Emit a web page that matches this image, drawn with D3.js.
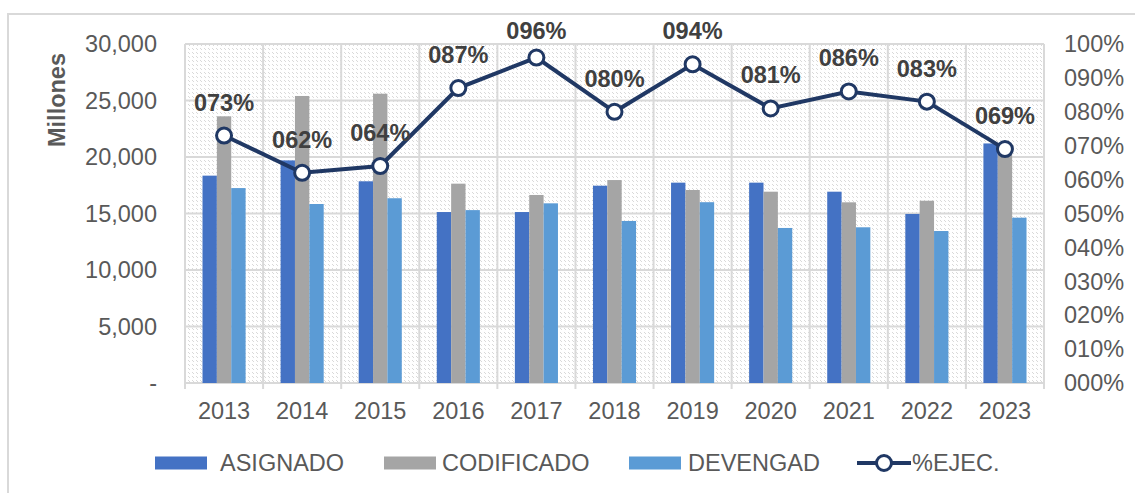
<!DOCTYPE html>
<html>
<head>
<meta charset="utf-8">
<script src="https://cdn.jsdelivr.net/npm/d3@7"></script>
<style>
  body { margin: 0; background: #fff; }
  svg { display: block; font-family: "Liberation Sans", Arial, sans-serif; }
</style>
</head>
<body>
<svg width="1135" height="493"></svg>
<script>
// data
var years = ["2013","2014","2015","2016","2017","2018","2019","2020","2021","2022","2023"];
var asignado   = [18350, 19700, 17850, 15130, 15130, 17460, 17730, 17730, 16930, 14960, 21200];
var codificado = [23600, 25400, 25600, 17640, 16640, 17960, 17080, 16930, 15990, 16130, 20700];
var devengado  = [17250, 15840, 16350, 15300, 15900, 14340, 16000, 13720, 13780, 13450, 14630];
var ejec = [0.73, 0.62, 0.64, 0.87, 0.96, 0.80, 0.94, 0.81, 0.86, 0.83, 0.69];
var leftTicks = [0, 5000, 10000, 15000, 20000, 25000, 30000];
var rightTicks = [0, .1, .2, .3, .4, .5, .6, .7, .8, .9, 1];

var keys = ["ASIGNADO", "CODIFICADO", "DEVENGAD"];
var colors = ["#4472C4", "#A5A5A5", "#5B9BD5"];
var lineColor = "#203864";
var textColor = "#595959";
var fs = 23.5;

var svg = d3.select("svg");
var plot = {left: 185, right: 1044, top: 44, bottom: 383};

// hatch background
var defs = svg.append("defs");
var pat = defs.append("pattern")
    .attr("id", "hatch")
    .attr("patternUnits", "userSpaceOnUse")
    .attr("width", 8).attr("height", 8);
pat.append("rect").attr("width", 8).attr("height", 8).attr("fill", "#fff");
for (var i = 0; i < 8; i++) {
  if (i % 4 > 1) continue;
  pat.append("rect").attr("x", i).attr("y", i).attr("width", 1).attr("height", 1).attr("fill", "#d9d9d9");
  pat.append("rect").attr("x", i).attr("y", (i + 4) % 8).attr("width", 1).attr("height", 1).attr("fill", "#d9d9d9");
}

// outer frame
svg.append("rect")
    .attr("x", 8).attr("y", 14)
    .attr("width", 1160).attr("height", 520)
    .attr("fill", "none")
    .attr("stroke", "#d9d9d9")
    .attr("stroke-width", 2);

var x0 = d3.scaleBand().domain(years).range([plot.left, plot.right]);
var x1 = d3.scaleBand().domain(keys).range([17.5, 60.6]);
var y = d3.scaleLinear().domain([0, 30000]).range([plot.bottom, plot.top]);
var y2 = d3.scaleLinear().domain([0, 1]).range([plot.bottom, plot.top]);

svg.append("rect")
    .attr("x", plot.left).attr("y", plot.top)
    .attr("width", plot.right - plot.left)
    .attr("height", plot.bottom - plot.top)
    .attr("fill", "url(#hatch)");

// horizontal grid
svg.append("g").selectAll("line")
  .data(leftTicks)
  .enter().append("line")
    .attr("x1", plot.left).attr("x2", plot.right)
    .attr("y1", d => y(d)).attr("y2", d => y(d))
    .attr("stroke", "#d9d9d9")
    .attr("stroke-width", 2);

// vertical grid at category boundaries (with tick below axis)
var bounds = years.map(d => x0(d)).concat([plot.right]);
svg.append("g").selectAll("line")
  .data(bounds)
  .enter().append("line")
    .attr("x1", d => d).attr("x2", d => d)
    .attr("y1", plot.top).attr("y2", plot.bottom + 6)
    .attr("stroke", "#d9d9d9")
    .attr("stroke-width", 2);

// bars
var rows = years.map((yr, i) => ({year: yr, values: [asignado[i], codificado[i], devengado[i]]}));
var groups = svg.append("g").selectAll("g")
  .data(rows)
  .enter().append("g")
    .attr("transform", d => `translate(${x0(d.year)},0)`);
groups.selectAll("rect")
  .data(d => d.values.map((v, k) => ({key: keys[k], value: v, color: colors[k]})))
  .enter().append("rect")
    .attr("x", d => x1(d.key))
    .attr("y", d => y(d.value))
    .attr("width", x1.bandwidth())
    .attr("height", d => plot.bottom - y(d.value))
    .attr("fill", d => d.color);

// left axis labels
svg.append("g").selectAll("text")
  .data(leftTicks)
  .enter().append("text")
    .attr("x", 157)
    .attr("y", d => y(d))
    .attr("dy", "0.35em")
    .attr("text-anchor", "end")
    .attr("font-size", fs)
    .attr("fill", textColor)
    .text(d => d == 0 ? "-" : d3.format(",")(d));

// right axis labels
svg.append("g").selectAll("text")
  .data(rightTicks)
  .enter().append("text")
    .attr("x", 1064)
    .attr("y", d => y2(d))
    .attr("dy", "0.35em")
    .attr("font-size", fs)
    .attr("fill", textColor)
    .text(d => d3.format("03d")(Math.round(d * 100)) + "%");

// x labels
svg.append("g").selectAll("text")
  .data(years)
  .enter().append("text")
    .attr("x", d => x0(d) + x0.bandwidth() / 2)
    .attr("y", 419)
    .attr("text-anchor", "middle")
    .attr("font-size", fs)
    .attr("fill", textColor)
    .text(d => d);

// axis title
svg.append("text")
    .attr("transform", "translate(65,100) rotate(-90)")
    .attr("text-anchor", "middle")
    .attr("font-size", fs)
    .attr("font-weight", "bold")
    .attr("fill", textColor)
    .text("Millones");

// line
var pts = years.map((yr, i) => ({year: yr, v: ejec[i]}));
var cx = d => x0(d.year) + x0.bandwidth() / 2;
svg.append("path")
    .datum(pts)
    .attr("fill", "none")
    .attr("stroke", lineColor)
    .attr("stroke-width", 4)
    .attr("d", d3.line().x(cx).y(d => y2(d.v)));
svg.append("g").selectAll("circle")
  .data(pts)
  .enter().append("circle")
    .attr("cx", cx)
    .attr("cy", d => y2(d.v))
    .attr("r", 7.5)
    .attr("fill", "#fff")
    .attr("stroke", lineColor)
    .attr("stroke-width", 3);
// labels kept inside the chart area, like excel does
svg.append("g").selectAll("text")
  .data(pts)
  .enter().append("text")
    .attr("x", cx)
    .attr("y", d => Math.max(y2(d.v) - 25, 39))
    .attr("text-anchor", "middle")
    .attr("font-size", fs)
    .attr("font-weight", "bold")
    .attr("fill", "#404040")
    .text(d => d3.format("03d")(Math.round(d.v * 100)) + "%");

// legend
var legY = 463;
var legSwatch = [155, 384, 629];
var legText = [220, 442, 688];
var legend = svg.append("g");
keys.forEach(function(k, i) {
  legend.append("rect")
      .attr("x", legSwatch[i]).attr("y", legY - 6.5)
      .attr("width", 52).attr("height", 13)
      .attr("fill", colors[i]);
  legend.append("text")
      .attr("x", legText[i]).attr("y", legY)
      .attr("dy", "0.35em")
      .attr("font-size", fs)
      .attr("fill", textColor)
      .text(k);
});
legend.append("line")
    .attr("x1", 857).attr("x2", 911)
    .attr("y1", legY).attr("y2", legY)
    .attr("stroke", lineColor).attr("stroke-width", 4);
legend.append("circle")
    .attr("cx", 884).attr("cy", legY).attr("r", 7.5)
    .attr("fill", "#fff").attr("stroke", lineColor).attr("stroke-width", 3);
legend.append("text")
    .attr("x", 912).attr("y", legY)
    .attr("dy", "0.35em")
    .attr("font-size", fs)
    .attr("fill", textColor)
    .text("%EJEC.");
</script>
</body>
</html>
